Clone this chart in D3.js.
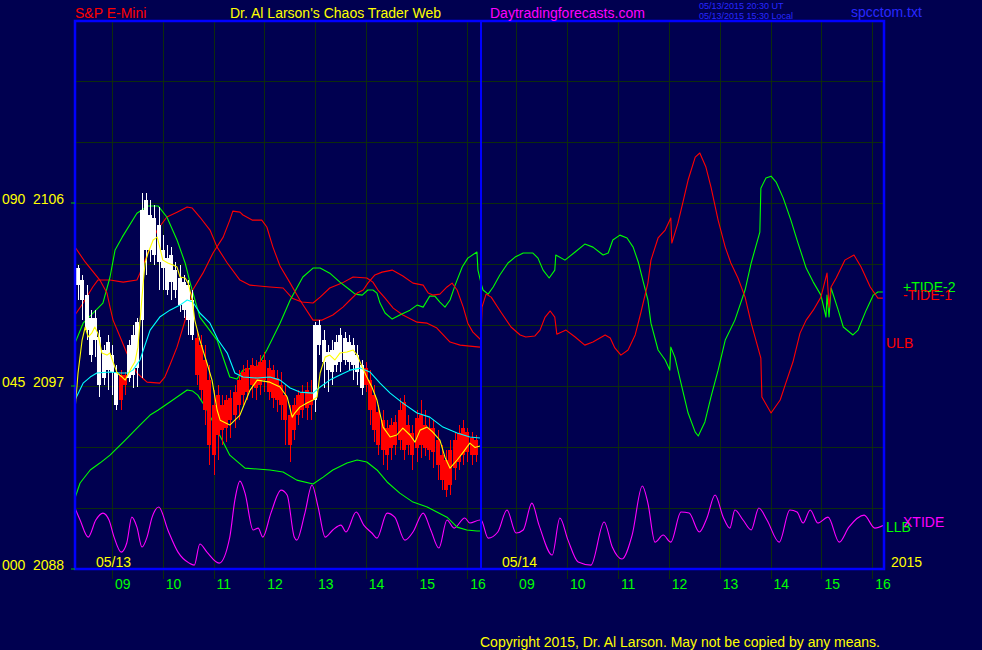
<!DOCTYPE html>
<html><head><meta charset="utf-8">
<script src="https://cdn.jsdelivr.net/npm/d3@7"></script>
<style>html,body{margin:0;padding:0;background:#000050;overflow:hidden}svg{display:block}</style>
</head><body>
<svg id="c" width="982" height="650"></svg>
<script>
// ---------------- DATA ----------------
// time in decimal hours; day 2 (05/14) = 24 + hour
const sessions = [{label:"05/13", start:8.27, end:16.27}, {label:"05/14", start:32.31, end:40.23}];
const hourTicks = [9,10,11,12,13,14,15,16];
const gridPrices = [2091,2094,2097,2100,2103,2106,2109,2112];
const yLabelPrices = [2106,2097,2088];
const yLabelTide = ["090","045","000"];

// 5-minute bars, 05/13 starting 08:20
const barStart = 8 + 20/60;
const barHigh = [
 2102.95,2102.46,2101.96,2100.73,2100.73, 2099.75,2099.01,2099.51,2099.01,2098.03,
 2097.78,2097.69,2099.26,2100.00,2100.34, 2106.49,2106.49,2106.14,2105.90,2105.80,
 2104.42,2103.93,2103.83,2103.10,2102.95, 2102.46,2102.21,2101.72,2099.75,2099.51,
 2099.01,2098.03,2096.80,2097.05,2096.55, 2096.55,2096.80,2097.05,2097.78,2098.03,
 2098.28,2098.37,2098.28,2098.52,2098.67, 2098.28,2098.03,2097.78,2097.69,2097.05,
 2096.06,2096.41,2096.80,2097.05,2097.19, 2097.29,2100.14,2100.24,2099.75,2099.01,
 2099.26,2099.51,2099.85,2099.65,2099.51, 2099.36,2099.01,2098.28,2098.18,2097.78,
 2097.05,2096.06,2095.82,2095.32,2095.42, 2095.57,2096.41,2096.55,2095.57,2095.08,
 2095.82,2096.31,2095.82,2095.42,2095.32, 2094.83,2094.10,2093.85,2094.34,2094.73,
 2095.08,2095.32,2094.93,2094.73,2094.59];
const barBodyHi = [
 2102.80,2102.21,2101.47,2100.34,2100.34, 2099.41,2098.77,2099.16,2098.52,2097.69,
 2097.54,2097.54,2099.01,2099.51,2100.14, 2105.65,2106.14,2105.41,2105.26,2104.91,
 2103.69,2103.29,2103.44,2102.70,2102.31, 2102.11,2101.96,2101.23,2099.36,2099.01,
 2098.28,2097.29,2096.06,2096.55,2096.06, 2096.31,2096.41,2096.70,2097.29,2097.69,
 2097.88,2098.03,2097.98,2098.18,2098.28, 2097.88,2097.78,2097.39,2097.05,2096.55,
 2095.57,2096.06,2096.55,2096.65,2096.80, 2096.70,2100.00,2100.00,2099.26,2098.67,
 2098.77,2099.16,2099.51,2099.36,2099.16, 2099.01,2098.52,2098.03,2097.88,2097.29,
 2096.55,2095.72,2095.32,2094.93,2095.08, 2095.23,2095.82,2096.21,2095.08,2094.69,
 2095.42,2095.57,2095.08,2094.93,2094.93, 2094.34,2093.60,2093.36,2093.85,2094.34,
 2094.69,2094.93,2094.73,2094.44,2094.34];
const barBodyLo = [
 2101.96,2101.23,2099.75,2098.52,2099.26, 2097.05,2097.39,2097.78,2097.69,2096.06,
 2096.31,2097.05,2097.39,2097.54,2097.88, 2100.24,2103.69,2103.69,2103.44,2103.10,
 2102.80,2101.72,2102.11,2101.72,2100.98, 2100.73,2100.24,2099.51,2097.54,2096.80,
 2095.82,2094.10,2093.60,2094.59,2094.83, 2094.93,2095.32,2095.57,2096.06,2096.55,
 2096.70,2097.05,2096.90,2097.05,2097.29, 2096.70,2096.41,2096.31,2096.06,2095.32,
 2094.10,2094.83,2095.57,2095.82,2095.92, 2096.06,2096.31,2099.01,2098.18,2097.78,
 2097.69,2098.03,2098.18,2098.28,2098.18, 2098.03,2097.69,2096.90,2097.05,2095.82,
 2094.83,2094.10,2093.85,2093.60,2093.95, 2094.10,2094.34,2093.85,2094.10,2093.60,
 2093.95,2094.10,2093.95,2093.85,2093.75, 2093.11,2092.37,2091.88,2092.13,2092.96,
 2093.26,2093.60,2093.75,2093.60,2093.60];
const barLow = [
 2101.23,2100.24,2099.26,2098.18,2098.42, 2096.46,2097.05,2096.80,2096.55,2095.82,
 2095.82,2096.55,2097.19,2096.90,2096.95, 2097.39,2102.46,2103.10,2102.95,2101.72,
 2101.72,2101.47,2101.23,2101.32,2100.64, 2100.34,2099.51,2099.26,2097.05,2096.31,
 2095.08,2093.11,2092.62,2093.36,2094.10, 2094.24,2094.44,2094.93,2095.32,2096.06,
 2096.31,2096.41,2096.31,2096.55,2096.70, 2096.31,2095.92,2095.72,2095.32,2094.10,
 2093.26,2094.34,2095.08,2095.42,2095.32, 2095.32,2095.72,2098.52,2096.90,2096.70,
 2097.05,2097.69,2097.69,2098.03,2097.78, 2097.29,2097.05,2096.55,2096.70,2095.08,
 2094.24,2093.60,2093.11,2092.87,2093.36, 2093.60,2093.85,2093.36,2093.60,2092.87,
 2093.26,2093.46,2093.55,2093.36,2092.96, 2092.37,2091.88,2091.54,2091.64,2092.37,
 2092.87,2093.11,2093.26,2093.11,2093.26];
// 1 = white (up trend), 0 = red (down trend)
const barUp = [
 1,1,1,1,1, 1,1,1,1,1, 0,0,1,1,1, 1,1,1,1,1,
 1,1,1,1,1, 1,1,1,0,0, 0,0,0,0,0, 0,0,0,0,0,
 0,0,0,0,0, 0,0,0,0,0, 0,0,0,0,0, 0,1,1,1,1,
 1,1,1,1,1, 1,1,1,0,0, 0,0,0,0,0, 0,0,0,0,0,
 0,0,0,0,0, 0,0,0,0,0, 0,0,0,0,0];

const fastAvg = [[8.27,2095.82],[8.33,2097.64],[8.41,2099.26],[8.47,2099.90],[8.53,2099.41],[8.60,2099.60],[8.66,2099.90],[8.72,2099.60],[8.80,2098.62],[8.90,2098.52],[8.96,2098.62],[9.02,2098.18],[9.10,2097.64],[9.20,2097.44],[9.26,2097.29],[9.31,2097.54],[9.39,2097.93],[9.45,2098.18],[9.51,2098.91],[9.59,2101.37],[9.65,2103.05],[9.71,2103.54],[9.81,2104.18],[9.89,2104.32],[9.94,2103.83],[10.00,2103.19],[10.10,2103.05],[10.20,2102.95],[10.28,2102.85],[10.34,2102.36],[10.44,2102.31],[10.50,2102.06],[10.58,2101.23],[10.63,2100.24],[10.73,2099.26],[10.87,2098.13],[10.97,2097.29],[11.07,2095.82],[11.13,2095.32],[11.32,2095.08],[11.52,2095.57],[11.72,2096.80],[11.86,2097.29],[12.11,2097.19],[12.31,2096.95],[12.45,2096.46],[12.55,2095.47],[12.60,2095.67],[12.70,2095.96],[12.84,2096.16],[12.96,2096.31],[13.04,2096.46],[13.10,2097.64],[13.20,2098.42],[13.29,2098.52],[13.39,2098.28],[13.49,2098.62],[13.63,2098.67],[13.75,2098.77],[13.83,2098.52],[13.93,2097.93],[14.02,2097.44],[14.12,2096.95],[14.22,2096.31],[14.34,2094.98],[14.48,2094.49],[14.61,2094.59],[14.73,2094.93],[14.87,2094.59],[14.97,2094.24],[15.07,2094.83],[15.21,2094.98],[15.32,2094.73],[15.46,2094.34],[15.56,2093.50],[15.66,2092.96],[15.80,2093.36],[15.92,2093.75],[16.05,2094.19],[16.15,2093.98],[16.25,2094.05]];

const slowAvg = [[8.27,2096.31],[8.43,2097.14],[8.57,2097.44],[8.70,2097.64],[8.96,2097.69],[9.16,2097.64],[9.31,2097.64],[9.41,2097.78],[9.55,2098.28],[9.75,2099.75],[9.94,2100.39],[10.14,2100.73],[10.34,2100.98],[10.48,2101.23],[10.59,2101.13],[10.73,2100.59],[10.93,2100.09],[11.09,2099.26],[11.27,2098.62],[11.42,2097.64],[11.58,2097.44],[11.86,2097.39],[12.11,2097.44],[12.31,2097.29],[12.51,2096.90],[12.70,2096.70],[12.96,2096.65],[13.10,2096.95],[13.29,2097.29],[13.49,2097.54],[13.69,2097.78],[13.89,2097.88],[14.08,2097.69],[14.28,2097.14],[14.48,2096.65],[14.73,2096.16],[15.01,2095.67],[15.26,2095.47],[15.52,2094.98],[15.80,2094.69],[16.05,2094.49],[16.25,2094.44]];

const ulb = [[8.27,2100.49],[8.43,2101.08],[8.62,2101.87],[8.72,2102.21],[8.96,2102.21],[9.22,2102.11],[9.49,2102.21],[9.55,2102.55],[9.75,2103.83],[9.89,2104.67],[10.08,2105.31],[10.28,2105.55],[10.48,2105.80],[10.58,2105.75],[10.73,2105.31],[10.93,2104.67],[11.07,2103.83],[11.27,2103.05],[11.52,2102.21],[11.72,2101.96],[12.11,2101.87],[12.37,2101.82],[12.55,2101.32],[12.74,2101.13],[12.96,2101.08],[13.10,2101.37],[13.29,2101.82],[13.53,2102.06],[13.75,2102.36],[14.02,2102.31],[14.14,2102.11],[14.24,2101.72],[14.38,2101.32],[14.54,2100.83],[14.73,2100.49],[15.01,2100.14],[15.21,2100.09],[15.40,2099.85],[15.66,2099.16],[15.86,2099.01],[16.05,2098.96],[16.25,2098.91]];

const llb = [[8.27,2091.49],[8.37,2092.23],[8.57,2092.87],[8.76,2093.21],[8.96,2093.60],[9.26,2094.34],[9.55,2095.08],[9.75,2095.57],[9.91,2095.82],[10.14,2096.21],[10.48,2096.80],[10.59,2096.75],[10.69,2096.55],[10.79,2096.16],[10.87,2095.82],[11.32,2093.60],[11.62,2092.96],[12.11,2092.87],[12.37,2092.77],[12.64,2092.37],[12.96,2092.18],[13.16,2092.52],[13.35,2092.87],[13.63,2093.21],[13.83,2093.36],[14.02,2093.26],[14.22,2092.87],[14.42,2092.28],[14.67,2091.73],[14.93,2091.29],[15.21,2091.05],[15.40,2090.80],[15.60,2090.55],[15.80,2090.06],[15.99,2089.92],[16.19,2089.87],[16.25,2089.87]];

const tide1 = [[8.27,2103.83],[8.47,2103.10],[8.76,2102.21],[8.90,2101.57],[8.96,2100.88],[9.02,2100.24],[9.16,2099.41],[9.29,2098.62],[9.49,2097.64],[9.69,2097.19],[9.94,2097.14],[10.04,2097.44],[10.14,2098.03],[10.28,2098.91],[10.40,2099.90],[10.50,2100.73],[10.59,2101.72],[10.79,2102.55],[10.99,2103.54],[11.19,2104.32],[11.32,2105.16],[11.38,2105.60],[11.52,2105.55],[11.58,2105.41],[11.76,2105.16],[11.95,2105.16],[12.05,2104.82],[12.17,2103.83],[12.31,2102.90],[12.51,2102.06],[12.70,2101.23],[12.96,2100.24],[13.14,2100.24],[13.35,2100.49],[13.55,2100.88],[13.69,2101.23],[13.83,2101.57],[13.95,2101.72],[14.04,2102.06],[14.18,2102.46],[14.32,2102.60],[14.52,2102.70],[14.73,2102.41],[14.93,2102.06],[15.13,2101.96],[15.23,2101.57],[15.32,2101.47],[15.46,2101.52],[15.60,2101.87],[15.70,2102.06],[15.80,2101.72],[15.92,2100.88],[16.01,2100.09],[16.11,2099.65],[16.21,2099.41],
 [32.31,2099.26],[32.33,2100.88],[32.41,2101.52],[32.51,2101.37],[32.70,2100.64],[32.90,2099.90],[33.08,2099.51],[33.19,2099.41],[33.37,2099.46],[33.47,2099.75],[33.57,2100.39],[33.67,2100.69],[33.76,2100.39],[33.80,2099.55],[33.98,2099.75],[34.16,2099.41],[34.35,2099.01],[34.51,2099.16],[34.75,2099.51],[34.85,2099.36],[34.94,2098.87],[35.06,2098.52],[35.20,2098.77],[35.34,2099.51],[35.45,2100.59],[35.59,2102.06],[35.65,2103.19],[35.79,2104.28],[35.93,2104.67],[36.04,2105.26],[36.06,2104.03],[36.18,2105.01],[36.28,2106.05],[36.38,2107.13],[36.52,2108.26],[36.61,2108.46],[36.73,2107.77],[36.83,2106.78],[36.97,2105.16],[37.11,2103.83],[37.22,2103.05],[37.36,2102.31],[37.50,2101.37],[37.62,2100.09],[37.81,2098.37],[37.83,2096.46],[38.01,2095.67],[38.19,2096.31],[38.30,2097.14],[38.44,2098.18],[38.58,2099.60],[38.70,2100.24],[38.84,2100.73],[38.99,2101.37],[39.11,2102.55],[39.15,2100.88],[39.19,2101.87],[39.29,2102.31],[39.46,2103.19],[39.64,2103.44],[39.78,2102.85],[39.96,2101.87],[40.11,2101.32],[40.23,2101.32]];

const tide2 = [[8.27,2099.11],[8.43,2100.09],[8.82,2101.08],[8.96,2102.36],[9.06,2103.69],[9.20,2104.32],[9.49,2105.50],[9.71,2105.85],[9.91,2105.85],[10.08,2105.31],[10.28,2104.18],[10.44,2103.05],[10.54,2102.06],[10.73,2100.39],[11.07,2099.26],[11.32,2097.44],[11.46,2097.34],[11.58,2097.78],[11.86,2097.93],[12.05,2098.77],[12.31,2100.09],[12.51,2101.23],[12.76,2102.36],[12.96,2102.80],[13.10,2102.80],[13.29,2102.55],[13.49,2102.11],[13.69,2101.72],[13.79,2101.52],[13.93,2101.47],[14.04,2101.72],[14.14,2101.72],[14.22,2101.57],[14.28,2101.08],[14.38,2100.59],[14.52,2100.29],[14.67,2100.49],[14.87,2100.73],[15.01,2100.98],[15.13,2100.88],[15.26,2101.42],[15.36,2101.42],[15.46,2101.13],[15.56,2100.88],[15.66,2101.23],[15.76,2101.96],[15.90,2102.85],[16.01,2103.29],[16.19,2103.59],[16.21,2102.70],
 [32.31,2102.06],[32.35,2101.72],[32.45,2101.52],[32.55,2101.87],[32.68,2102.46],[32.84,2103.05],[32.98,2103.34],[33.14,2103.54],[33.33,2103.54],[33.43,2103.29],[33.53,2102.70],[33.65,2102.31],[33.76,2102.70],[33.78,2103.44],[33.96,2103.19],[34.16,2103.59],[34.35,2103.98],[34.51,2103.83],[34.71,2103.44],[34.81,2103.54],[34.90,2104.18],[35.04,2104.42],[35.18,2104.28],[35.30,2103.83],[35.40,2103.10],[35.49,2102.21],[35.59,2101.23],[35.65,2100.09],[35.79,2098.77],[35.93,2098.28],[36.02,2097.78],[36.04,2098.91],[36.12,2098.42],[36.24,2097.14],[36.38,2095.67],[36.52,2094.73],[36.58,2094.54],[36.71,2095.23],[36.83,2096.46],[36.97,2097.78],[37.11,2099.26],[37.30,2100.24],[37.50,2101.72],[37.62,2103.05],[37.79,2104.57],[37.81,2106.73],[37.91,2107.23],[38.01,2107.32],[38.11,2107.03],[38.25,2106.24],[38.40,2105.16],[38.54,2104.03],[38.70,2102.80],[38.84,2102.11],[38.99,2101.47],[39.09,2100.39],[39.11,2101.47],[39.15,2100.39],[39.19,2101.82],[39.33,2100.73],[39.43,2099.90],[39.62,2099.51],[39.72,2099.75],[39.88,2100.73],[40.02,2101.47],[40.11,2101.62],[40.23,2101.62]];

const xtide = [[8.27,2091.00],[8.37,2090.41],[8.53,2089.57],[8.68,2090.41],[8.82,2090.75],[8.94,2090.41],[9.04,2089.57],[9.18,2088.83],[9.29,2089.28],[9.39,2090.55],[9.49,2090.06],[9.59,2089.08],[9.69,2089.57],[9.79,2090.55],[9.92,2091.05],[10.10,2089.92],[10.30,2088.83],[10.52,2088.29],[10.62,2088.19],[10.73,2089.23],[10.87,2088.83],[11.11,2088.29],[11.32,2089.57],[11.42,2091.39],[11.52,2092.32],[11.62,2091.73],[11.78,2089.92],[11.88,2090.01],[11.97,2089.57],[12.13,2090.75],[12.33,2091.88],[12.45,2091.64],[12.59,2089.57],[12.64,2089.42],[12.80,2090.75],[12.94,2092.13],[13.06,2091.05],[13.20,2089.57],[13.35,2089.92],[13.51,2090.16],[13.61,2089.82],[13.81,2090.80],[13.96,2090.16],[14.12,2089.77],[14.22,2089.52],[14.42,2090.75],[14.57,2090.55],[14.77,2089.42],[14.93,2089.82],[15.13,2090.75],[15.28,2089.92],[15.44,2089.03],[15.60,2090.41],[15.74,2090.01],[15.95,2090.51],[16.05,2090.26],[16.25,2090.41],
 [32.31,2090.41],[32.45,2089.52],[32.64,2089.82],[32.82,2090.90],[33.00,2089.77],[33.14,2089.92],[33.31,2091.24],[33.45,2090.16],[33.71,2088.69],[33.86,2090.51],[34.02,2089.42],[34.22,2088.34],[34.47,2088.19],[34.73,2090.31],[34.89,2089.08],[35.08,2088.49],[35.28,2089.67],[35.48,2092.08],[35.59,2091.24],[35.73,2089.32],[35.89,2089.67],[36.04,2089.32],[36.24,2090.80],[36.40,2090.75],[36.60,2089.82],[36.75,2090.51],[36.91,2091.64],[37.07,2090.55],[37.20,2090.01],[37.30,2090.90],[37.46,2090.41],[37.62,2089.92],[37.77,2091.00],[37.93,2090.41],[38.17,2089.32],[38.38,2090.90],[38.52,2090.80],[38.64,2090.26],[38.78,2090.90],[38.93,2090.26],[39.13,2090.55],[39.35,2089.32],[39.54,2090.06],[39.84,2090.65],[40.05,2090.01],[40.23,2090.16]];

// ---------------- DRAW ----------------
const FONT = "'Liberation Sans', Arial, Helvetica, sans-serif";
const svg = d3.select("#c");
const L = 75, R = 884, T = 21, B = 569;

const x = d3.scaleLinear()
  .domain([sessions[0].start, sessions[0].end, sessions[1].start, sessions[1].end])
  .range([L, 481, 481, R]);
const y = d3.scaleLinear().domain([2088, 2115]).range([B, 20]);

svg.append("rect").attr("width", 982).attr("height", 650).attr("fill", "#000050");

const gridColor = "#0d2b0d";
// horizontal grid
svg.append("g").selectAll("line").data(gridPrices).join("line")
  .attr("x1", L).attr("x2", R)
  .attr("y1", d => Math.round(y(d)) + 0.5).attr("y2", d => Math.round(y(d)) + 0.5)
  .attr("stroke", gridColor).attr("stroke-width", 1).attr("shape-rendering", "crispEdges");

// vertical grid + hour labels
const hourData = [];
sessions.forEach((s, k) => hourTicks.forEach(h => hourData.push({t: k * 24 + h, h})));
svg.append("g").selectAll("line").data(hourData).join("line")
  .attr("x1", d => Math.round(x(d.t)) + 0.5).attr("x2", d => Math.round(x(d.t)) + 0.5)
  .attr("y1", T).attr("y2", 579)
  .attr("stroke", gridColor).attr("stroke-width", 1).attr("shape-rendering", "crispEdges");
svg.append("g").selectAll("text").data(hourData).join("text")
  .attr("x", d => x(d.t) + 3).attr("y", 589)
  .attr("fill", "#00ff00").attr("font-family", FONT).attr("font-size", 14)
  .text(d => d3.format("02d")(d.h));

// clip
svg.append("clipPath").attr("id", "plot").append("rect")
  .attr("x", L).attr("y", T).attr("width", R - L).attr("height", B - T);
const g = svg.append("g").attr("clip-path", "url(#plot)");

const line = d3.line().x(d => x(d[0])).y(d => y(d[1]));
const smooth = d3.line().x(d => x(d[0])).y(d => y(d[1])).curve(d3.curveMonotoneX);
function drawLine(data, color, gen) {
  g.append("path").datum(data).attr("d", gen || line)
    .attr("fill", "none").attr("stroke", color).attr("stroke-width", 1.1)
    .attr("stroke-linejoin", "round");
}
drawLine(xtide, "#ff00ff", smooth);
drawLine(llb, "#00ff00");
drawLine(ulb, "#ff0000");
drawLine(tide2, "#00ff00");
drawLine(tide1, "#ff0000");

// bars
const bars = barHigh.map((h, i) => ({
  t: barStart + i * 5 / 60, hi: h, lo: barLow[i], bh: barBodyHi[i], bl: barBodyLo[i], up: barUp[i]
}));
const bg = g.append("g").attr("shape-rendering", "crispEdges");
bg.selectAll("rect.w").data(bars).join("rect").attr("class", "w")
  .attr("x", d => Math.round(x(d.t))).attr("width", 1)
  .attr("y", d => y(d.hi)).attr("height", d => y(d.lo) - y(d.hi))
  .attr("fill", d => d.up ? "#ffffff" : "#ff0000");
bg.selectAll("rect.b").data(bars).join("rect").attr("class", "b")
  .attr("x", d => Math.round(x(d.t)) - 2).attr("width", 4)
  .attr("y", d => y(d.bh)).attr("height", d => Math.max(1, y(d.bl) - y(d.bh)))
  .attr("fill", d => d.up ? "#ffffff" : "#ff0000");

drawLine(slowAvg, "#00ffff");
drawLine(fastAvg, "#ffff00");

// frame
svg.append("rect").attr("x", L).attr("y", T).attr("width", R - L).attr("height", B - T)
  .attr("fill", "none").attr("stroke", "#0000ff").attr("stroke-width", 2.5);
svg.append("line").attr("x1", x(sessions[1].start)).attr("x2", x(sessions[1].start))
  .attr("y1", T).attr("y2", B).attr("stroke", "#0000ff").attr("stroke-width", 2);

// y ticks and labels
svg.append("g").selectAll("line").data(yLabelPrices).join("line")
  .attr("x1", 71).attr("x2", 75).attr("y1", d => y(d)).attr("y2", d => y(d))
  .attr("stroke", "#00c000").attr("stroke-width", 1);
const yl = svg.append("g").attr("fill", "#ffff00").attr("font-family", FONT).attr("font-size", 14);
yLabelPrices.forEach((p, i) => {
  yl.append("text").attr("x", 2).attr("y", y(p) + 1).text(yLabelTide[i]);
  yl.append("text").attr("x", 33).attr("y", y(p) + 1).text(p);
});

// session date labels
const txt = (xx, yy, s, color, size) => svg.append("text").attr("x", xx).attr("y", yy)
  .attr("fill", color).attr("font-family", FONT).attr("font-size", size || 14).text(s);
sessions.forEach(s => txt(x(s.start) + 21, 567, s.label, "#ffff00"));
txt(891, 567, "2015", "#ffff00");

// right-end labels (stacked closely, as in the original)
const last = a => a[a.length - 1][1];
txt(903, y(last(tide2)) + 0, "+TIDE-2", "#00ff00");
txt(903, y(last(tide1)) + 2, "-TIDE-1", "#ff0000");
txt(886, y(last(ulb)) + 1, "ULB", "#ff0000");
txt(886, y(last(llb)) + 1, "LLB", "#00ff00");
txt(903, y(last(xtide)) + 2, "XTIDE", "#ff00ff");

// header
txt(75, 18, "S&P E-Mini", "#ff0000");
txt(230, 18, "Dr. Al Larson's Chaos Trader Web", "#ffff00");
txt(490, 18, "Daytradingforecasts.com", "#ff00ff");
txt(699, 9, "05/13/2015 20:30 UT", "#2828ff", 9);
txt(699, 19, "05/13/2015 15:30 Local", "#2828ff", 9);
txt(851, 17, "spcctom.txt", "#2828ff");
txt(480, 647, "Copyright 2015, Dr. Al Larson. May not be copied by any means.", "#ffff00");
</script>
</body></html>
